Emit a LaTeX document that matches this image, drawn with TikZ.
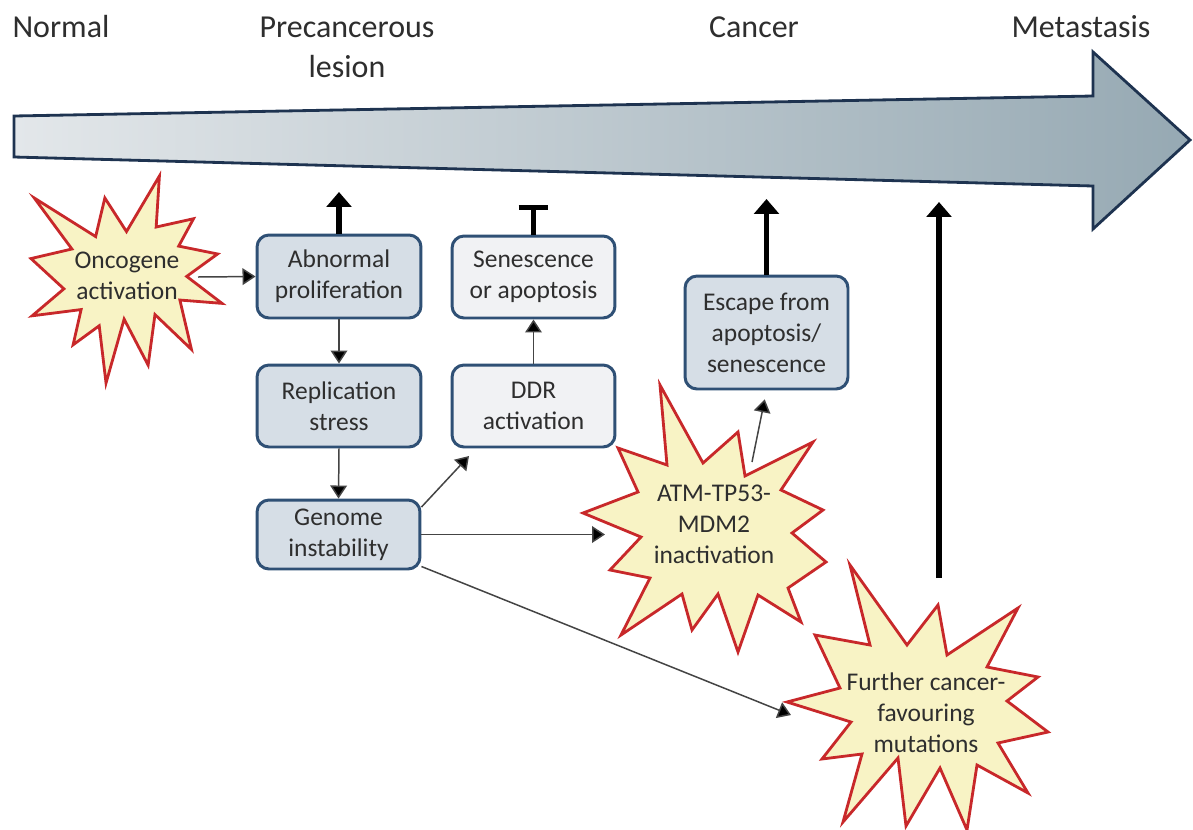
\documentclass[tikz,border=0pt]{standalone}
\usepackage{fontspec}
\setmainfont{Carlito}
\usetikzlibrary{arrows.meta,calc}
\definecolor{txt}{HTML}{2E2E2E}
\definecolor{boxline}{HTML}{2F5075}
\definecolor{boxdark}{HTML}{D6DEE6}
\definecolor{boxlight}{HTML}{F1F2F4}
\definecolor{starfill}{HTML}{F8F3C5}
\definecolor{starline}{HTML}{C8282A}
\definecolor{arrline}{HTML}{1E3350}
\definecolor{arrL}{HTML}{E3E7EA}
\definecolor{arrR}{HTML}{96A9B3}
\definecolor{conn}{HTML}{444444}
\newcommand{\sealpath}{(108,58) -- (145.22,0) -- (141.55,53.25) -- (183.80,44.57) -- (167.02,73.15) -- (210.97,81.37) -- (176.07,104.75) -- (216,132.90) -- (168.37,129.42) -- (181.45,180.95) -- (140.20,144.57) -- (132.47,197.37) -- (105.32,149.35) -- (84.85,216) -- (77.15,156.27) -- (47.62,176.17) -- (56.67,139.37) -- (1.35,145.87) -- (37.22,117.75) -- (0,86.15) -- (46.27,76.17) -- (3.70,22.95) -- (73.12,63.20) -- (83.52,22.95) -- cycle}
\tikzset{
  boxtext/.style={font=\fontsize{14.5pt}{17.6pt}\selectfont, text=txt, align=center},
  darkbox/.style={boxtext, draw=boxline, line width=1.7pt, fill=boxdark, rounded corners=0.24cm, inner sep=0pt, minimum width=3.26cm},
  lightbox/.style={darkbox, fill=boxlight},
  starshape/.style={draw=starline, fill=starfill, line width=1.6pt, line join=miter},
  startext/.style={boxtext, inner sep=0pt},
  toplabel/.style={font=\fontsize{18.2pt}{22.8pt}\selectfont, text=txt, align=center, inner sep=0pt},
  thin/.style={draw=conn, line width=0.85pt, -{Triangle[length=7.4pt,width=9.5pt,fill=black]}},
  thick/.style={draw=black, line width=3.1pt, -{Triangle[length=8.5pt,width=14pt]}},
  blocked/.style={draw=black, line width=3.1pt, -{Bar[width=17pt,line width=2.9pt]}}
}
\begin{document}
\begin{tikzpicture}[x=0.02cm,y=-0.02cm]
\path[use as bounding box, fill=white] (0,0) rectangle (1193,829);
% big progression arrow
\path[draw=arrline, line width=1.6pt, line join=miter, left color=arrL, right color=arrR]
  (14,116) -- (1093,96) -- (1093,52) -- (1190,140) -- (1093,229) -- (1093,186) -- (14,157) -- cycle;
% stage labels
\node[toplabel] (normal) at (61,27) {Normal};
\node[toplabel] (precanc) at (347,47) {Precancerous\\lesion};
\node[toplabel] (cancer) at (754,27) {Cancer};
\node[toplabel] (metast) at (1081,27) {Metastasis};
% stars
\begin{scope}[shift={(31,176)},xscale=191/216,yscale=207/216]
  \draw[starshape] \sealpath;
\end{scope}
\draw[starshape] (660,385) -- (703,463) -- (738,432) -- (745,476) -- (813,442) -- (781,490) -- (823,510) -- (792,533) -- (826,562) -- (788,588) -- (801,622) -- (758,595) -- (738,652) -- (718,594) -- (692,630) -- (682,594) -- (621,635) -- (650,578) -- (610,570) -- (641,537) -- (583,513) -- (638,492) -- (618,448) -- (667,465) -- cycle;
\draw[starshape] (850,565) -- (907,645) -- (938,605) -- (947,655) -- (1018,608) -- (987,667) -- (1038,677) -- (1007,701) -- (1048,732) -- (998,743) -- (1028,793) -- (977,765) -- (967,830) -- (940,768) -- (906,826) -- (898,758) -- (843,822) -- (862,754) -- (822,759) -- (851,722) -- (787,702) -- (840,688) -- (815,635) -- (870,645) -- cycle;
\node[startext] (onc) at (127,276) {Oncogene\\activation};
\node[startext] (atm) at (714,524) {ATM-TP53-\\MDM2\\inactivation};
\node[startext] (fur) at (926,713) {Further cancer-\\favouring\\mutations};
% boxes
\node[darkbox, minimum width=3.28cm, minimum height=1.66cm] (ab) at (339,276.5) {Abnormal\\proliferation};
\node[darkbox, minimum width=3.28cm, minimum height=1.64cm] (rep) at (339,406) {Replication\\stress};
\node[darkbox, minimum height=1.38cm] (gen) at (338.5,534.5) {Genome\\instability};
\node[lightbox, minimum height=1.64cm] (sen) at (533.5,277) {Senescence\\or apoptosis};
\node[lightbox, minimum height=1.64cm] (ddr) at (533.5,406) {DDR\\activation};
\node[darkbox, minimum height=2.26cm] (esc) at (766.5,332.5) {Escape from\\apoptosis/\\senescence};
% connector end points
\coordinate (oncout) at (198,277);
\coordinate (atmin) at (605,534.5);
\coordinate (atmout) at (752,462);
\coordinate (furin) at (791,715);
\coordinate (furout) at (939,578);
\coordinate (ddrin) at (469,456);
\coordinate (abup) at (339,192);
\coordinate (senbar) at (533.5,205);
\coordinate (escup) at (766.5,199);
\coordinate (furup) at (939,202);
% connectors
\draw[thin] (oncout) -- (ab.west);
\draw[thick] (ab.north) -- (abup);
\draw[thin] (ab.south) -- (rep.north);
\draw[thin] (rep.south) -- (gen.north);
\draw[thin] ([yshift=0.55cm]gen.east) -- (ddrin);
\draw[thin] (gen.east) -- (atmin);
\draw[thin] ([yshift=0.08cm]gen.south east) -- (furin);
\draw[thin] (ddr.north) -- (sen.south);
\draw[blocked] (sen.north) -- (senbar);
\draw[thin, shorten >=0.18cm] (atmout) -- (esc.south);
\draw[thick] (esc.north) -- (escup);
\draw[thick] (furout) -- (furup);
\end{tikzpicture}
\end{document}
